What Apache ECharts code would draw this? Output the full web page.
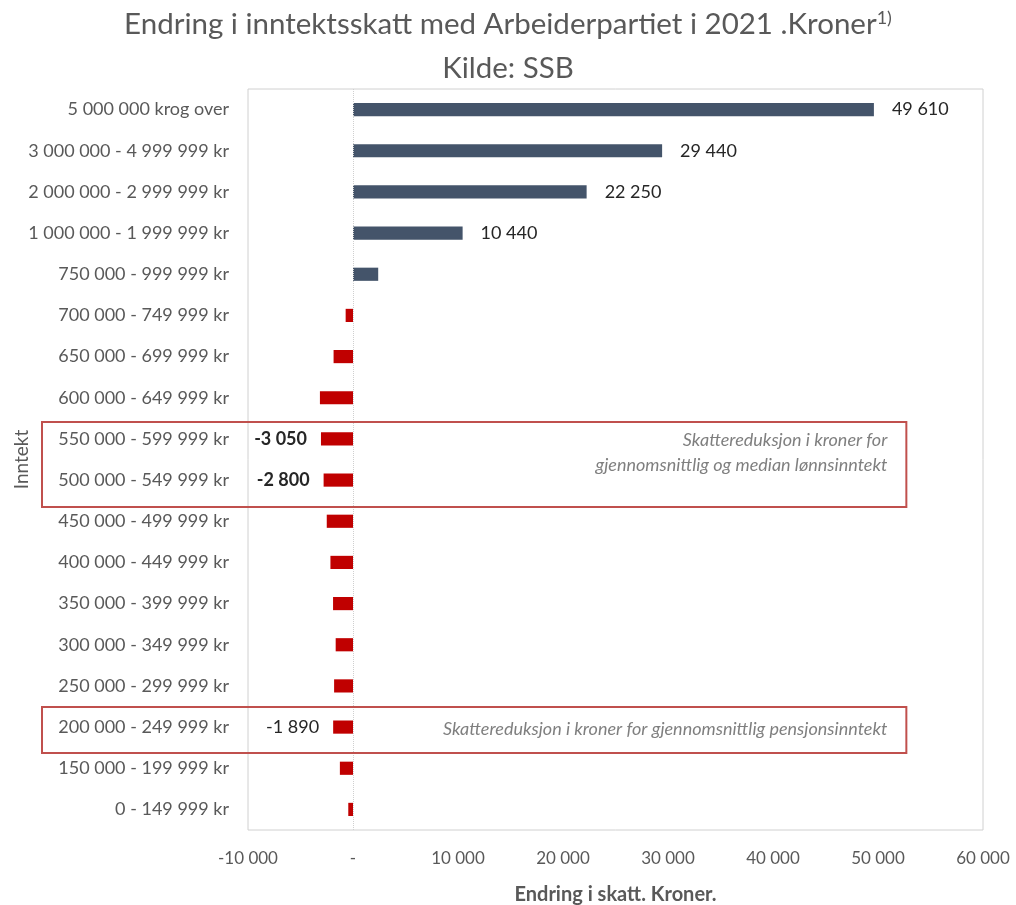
<!DOCTYPE html>
<html>
<head>
<meta charset="utf-8">
<script src="https://cdn.jsdelivr.net/npm/echarts@6/dist/echarts.min.js"></script>
<style>html,body{margin:0;padding:0;background:#fff}#c{width:1016px;height:905px}</style>
</head>
<body>
<div id="c"></div>
<script>
const categories = [
  "5 000 000 krog over",
  "3 000 000 - 4 999 999 kr",
  "2 000 000 - 2 999 999 kr",
  "1 000 000 - 1 999 999 kr",
  "750 000 - 999 999 kr",
  "700 000 - 749 999 kr",
  "650 000 - 699 999 kr",
  "600 000 - 649 999 kr",
  "550 000 - 599 999 kr",
  "500 000 - 549 999 kr",
  "450 000 - 499 999 kr",
  "400 000 - 449 999 kr",
  "350 000 - 399 999 kr",
  "300 000 - 349 999 kr",
  "250 000 - 299 999 kr",
  "200 000 - 249 999 kr",
  "150 000 - 199 999 kr",
  "0 - 149 999 kr"
];
const values = [49610, 29440, 22250, 10440, 2400, -700, -1850, -3150, -3050, -2800, -2500, -2150, -1900, -1650, -1800, -1890, -1250, -450];
// which values carry a data label: "right", "leftBold", "left" or null
const labelMode = ["right","right","right","right",null,null,null,null,"leftBold","leftBold",null,null,null,null,null,"left",null,null];
const xTicks = [-10000, 0, 10000, 20000, 30000, 40000, 50000, 60000];
const notes = [
  "Skattereduksjon i kroner for\ngjennomsnittlig og median lønnsinntekt",
  "Skattereduksjon i kroner for gjennomsnittlig pensjonsinntekt"
];

const fmt = v => {
  const s = Math.abs(v).toString().replace(/\B(?=(\d{3})+(?!\d))/g, " ");
  return (v < 0 ? "-" : "") + s;
};
const FONT = "Lato";
const TXT = "#595959";

const chart = echarts.init(document.getElementById('c'), null, {renderer: 'canvas'});

const data = values.map((v, i) => {
  const m = labelMode[i];
  const item = {
    value: v,
    itemStyle: {color: v >= 0 ? "#44546A" : "#C00000"}
  };
  if (m) {
    item.label = {
      show: true,
      position: m === "right" ? "right" : "left",
      distance: m === "right" ? 18 : 14,
      fontWeight: m === "leftBold" ? "bold" : "normal",
      formatter: p => fmt(p.value),
      color: "#262626",
      fontSize: 18,
      fontFamily: FONT
    };
  }
  return item;
});

chart.setOption({
  animation: false,
  backgroundColor: "#ffffff",
  title: [{
    text: "Endring i inntektsskatt med Arbeiderpartiet i 2021 .Kroner{sup|1)}",
    left: "center", top: 4,
    textStyle: {
      fontFamily: FONT, fontSize: 29.5, fontWeight: "normal", color: TXT,
      rich: {sup: {fontSize: 18, verticalAlign: "top", color: TXT, fontFamily: FONT, padding: [0,0,12,0]}}
    }
  }, {
    text: "Kilde: SSB",
    left: "center", top: 48,
    textStyle: {fontFamily: FONT, fontSize: 29.5, fontWeight: "normal", color: TXT}
  }],
  grid: {left: 248, right: 33, top: 89, bottom: 75, show: true, borderColor: "#d0d0d0", borderWidth: 1,
         containLabel: false, outerBoundsMode: "none"},
  xAxis: {
    type: "value", min: -10000, max: 60000, interval: 10000,
    name: "Endring i skatt. Kroner.",
    nameLocation: "middle", nameGap: 55,
    nameTextStyle: {fontFamily: FONT, fontSize: 20, fontWeight: "bold", color: TXT},
    axisLine: {show: false}, axisTick: {show: false}, splitLine: {show: false},
    axisLabel: {
      fontFamily: FONT, fontSize: 17, color: TXT, margin: 20,
      formatter: v => xTicks.includes(v) ? (v === 0 ? "-" : fmt(v)) : ""
    }
  },
  yAxis: {
    type: "category", data: categories, inverse: true,
    name: "Inntekt", nameLocation: "middle", nameGap: 217, nameRotate: 90,
    nameMoveOverlap: false,
    nameTextStyle: {fontFamily: FONT, fontSize: 19, color: TXT},
    axisLine: {show: false}, axisTick: {show: false}, splitLine: {show: false},
    axisLabel: {fontFamily: FONT, fontSize: 18, color: TXT, margin: 19}
  },
  series: [{
    type: "bar", data: data, barWidth: "32%",
    markLine: {
      silent: true, symbol: "none", label: {show: false},
      lineStyle: {color: "#cfcfcf", type: "dotted", width: 1},
      data: [{xAxis: 0}]
    }
  }]
});

// annotation boxes located through the chart's own axes
const yTop1 = chart.convertToPixel({yAxisIndex: 0}, categories[8]);
const yBot1 = chart.convertToPixel({yAxisIndex: 0}, categories[9]);
const y2 = chart.convertToPixel({yAxisIndex: 0}, categories[15]);
const xRight = chart.convertToPixel({xAxisIndex: 0}, 52700);
const boxLeft = 42;
chart.setOption({
  graphic: [
    {type: "rect", shape: {x: boxLeft, y: yTop1 - 17, width: xRight - boxLeft, height: (yBot1 - yTop1) + 44},
     style: {fill: "none", stroke: "#C0504D", lineWidth: 2}, z: 10},
    {type: "text", x: xRight - 19, y: yTop1 + 14,
     style: {text: notes[0], align: "right", verticalAlign: "middle", font: "italic 18px Lato", fill: "#7f7f7f", lineHeight: 25}, z: 10},
    {type: "rect", shape: {x: boxLeft, y: y2 - 20, width: xRight - boxLeft, height: 46},
     style: {fill: "none", stroke: "#C0504D", lineWidth: 2}, z: 10},
    {type: "text", x: xRight - 19, y: y2 + 2,
     style: {text: notes[1], align: "right", verticalAlign: "middle", font: "italic 18px Lato", fill: "#7f7f7f"}, z: 10}
  ]
});
</script>
</body>
</html>
